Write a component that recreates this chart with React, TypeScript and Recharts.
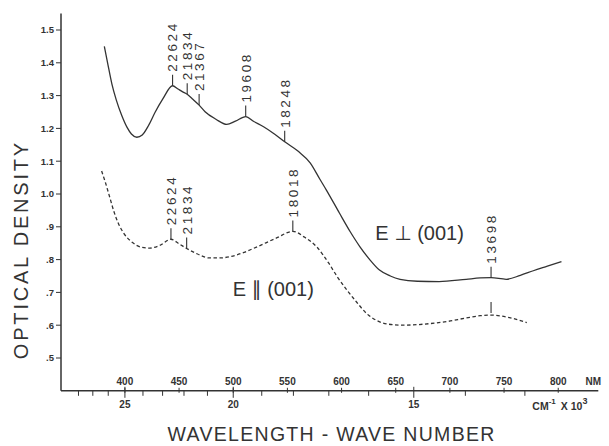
import { Label, Line, LineChart, ReferenceDot, XAxis, YAxis } from 'recharts'

// E perpendicular to (001): wavelength (nm) vs optical density
const perpNm = [381, 384, 388, 392, 397, 402, 406, 411, 416, 422, 428, 435, 444, 449, 453, 457.5, 463, 468.5, 474, 484, 494, 502, 511.5, 519, 528, 538, 547.5, 560, 571, 580, 586, 598, 608, 617, 626, 635, 645, 654, 670, 690, 715, 728, 738, 752, 765, 777, 790, 803]
const perpOd = [1.45, 1.4, 1.335, 1.287, 1.24, 1.203, 1.183, 1.173, 1.18, 1.21, 1.25, 1.29, 1.33, 1.32, 1.312, 1.304, 1.288, 1.271, 1.251, 1.228, 1.212, 1.222, 1.236, 1.221, 1.205, 1.183, 1.159, 1.13, 1.095, 1.045, 1.012, 0.942, 0.885, 0.839, 0.8, 0.768, 0.75, 0.74, 0.734, 0.733, 0.74, 0.744, 0.745, 0.74, 0.752, 0.766, 0.78, 0.794]

// E parallel to (001)
const paraNm = [378.5, 382, 386, 390, 394, 399, 407, 415, 423, 432, 442.5, 450, 457, 467, 478, 488, 497, 510, 522, 540, 555, 566, 577, 588, 596, 605, 614, 623, 632, 642, 655, 666, 682, 697, 715, 728, 738, 755, 771]
const paraOd = [1.07, 1.035, 0.99, 0.945, 0.91, 0.88, 0.852, 0.838, 0.835, 0.843, 0.862, 0.848, 0.834, 0.817, 0.805, 0.805, 0.809, 0.822, 0.839, 0.866, 0.886, 0.868, 0.839, 0.79, 0.748, 0.707, 0.67, 0.636, 0.615, 0.604, 0.6, 0.601, 0.605, 0.611, 0.622, 0.629, 0.631, 0.623, 0.608]

// peak annotations (wave number in cm-1)
const perpPeakLabels = ['22624', '21834', '21367', '19608', '18248', '13698']
const perpPeakNm = [444, 457.5, 468.5, 511.5, 547.5, 738]
const perpPeakOd = [1.33, 1.304, 1.271, 1.236, 1.159, 0.745]

const paraPeakLabels = ['22624', '21834', '18018', '']
const paraPeakNm = [442.5, 457, 555, 738]
const paraPeakOd = [0.862, 0.834, 0.886, 0.631]

const nmTicks = [400, 450, 500, 550, 600, 650, 700, 750, 800]
const wnTicksK = [28, 27, 26, 25, 24, 23, 22, 21, 20, 19, 18, 17, 16, 15, 14, 13] // x 10^3 cm-1
const wnLabelled = [25, 20, 15]
const odTicks = [0.5, 0.6, 0.7, 0.8, 0.9, 1.0, 1.1, 1.2, 1.3, 1.4, 1.5]

const perpData = perpNm.map((nm, i) => ({ nm, od: perpOd[i] }))
const paraData = paraNm.map((nm, i) => ({ nm, od: paraOd[i] }))
const axisTicks = Array.from(new Set([...nmTicks, ...wnTicksK.map((k) => 1e4 / k)])).sort((a, b) => a - b)

const INK = '#333'
const FONT = '"Liberation Sans", Arial, "DejaVu Sans", sans-serif'

function AxisTick(props: any) {
  const { x, y, payload } = props
  const v = payload.value
  const isNm = nmTicks.some((t) => Math.abs(t - v) < 1e-6)
  const k = Math.round(1e4 / v)
  const isWn = wnTicksK.includes(k) && Math.abs(1e4 / k - v) < 1e-6
  const major = isWn && wnLabelled.includes(k)
  return (
    <g>
      {isNm && <line x1={x} y1={y - 3} x2={x} y2={y + 2} stroke={INK} strokeWidth={1} />}
      {isWn && <line x1={x} y1={major ? y - 4 : y} x2={x} y2={major ? y + 7 : y + 5} stroke={INK} strokeWidth={1} />}
      {isNm && (
        <text x={x} y={y - 6} textAnchor="middle" fontSize={10} fontWeight={700} fill={INK} fontFamily={FONT}>
          {v}
        </text>
      )}
      {major && (
        <text x={x} y={y + 17} textAnchor="middle" fontSize={10} fontWeight={700} fill={INK} fontFamily={FONT}>
          {k}
        </text>
      )}
    </g>
  )
}

function XTitles(props: any) {
  const vb = props.viewBox
  const right = vb.x + vb.width
  return (
    <g fill={INK} fontFamily={FONT}>
      <text x={right - 5} y={vb.y - 6} textAnchor="middle" fontSize={10} fontWeight={700}>
        NM
      </text>
      <text x={right - 66} y={vb.y + 19} fontSize={10.5} fontWeight={700}>
        CM
        <tspan dy={-6} fontSize={8}>-1</tspan>
        <tspan dy={6} dx={5}>X 10</tspan>
        <tspan dy={-6} fontSize={9}>3</tspan>
      </text>
      <text x={vb.x + vb.width / 2 + 2} y={vb.y + 50} textAnchor="middle" fontSize={19.5} letterSpacing={1.3}>
        WAVELENGTH - WAVE NUMBER
      </text>
    </g>
  )
}

function YTitle(props: any) {
  const vb = props.viewBox
  const cx = vb.x + 21
  const cy = vb.y + 236
  return (
    <text
      transform={`translate(${cx},${cy}) rotate(-90)`}
      dy="0.36em"
      textAnchor="middle"
      fontSize={20}
      letterSpacing={2.8}
      fill={INK}
      fontFamily={FONT}
    >
      OPTICAL DENSITY
    </text>
  )
}

function PeakMark({ cx, cy, text, gap }: { cx: number; cy: number; text: string; gap: number }) {
  const top = cy - gap - 11
  return (
    <g>
      <line x1={cx} y1={cy - gap} x2={cx} y2={top} stroke={INK} strokeWidth={1.1} />
      {text && (
        <text
          transform={`translate(${cx},${top - 3}) rotate(-90)`}
          dy="0.36em"
          fontSize={13.5}
          letterSpacing={2.6}
          fill={INK}
          fontFamily={FONT}
        >
          {text}
        </text>
      )}
    </g>
  )
}

const fmtOd = (v: number) => (v >= 1 ? v.toFixed(1) : v.toFixed(1).slice(1))

export default function App() {
  return (
    <div style={{ position: 'absolute', left: 0, top: 0, background: '#fff' }}>
      <LineChart width={609} height={446} margin={{ top: 13.6, right: 10.7, bottom: 0.2, left: 0 }}>
        <XAxis
          type="number"
          dataKey="nm"
          domain={[341, 837]}
          allowDataOverflow
          ticks={axisTicks}
          interval={0}
          height={55}
          tickSize={0}
          tickMargin={0}
          tickLine={false}
          axisLine={{ stroke: INK, strokeWidth: 1.5 }}
          tick={(p: any) => <AxisTick {...p} />}
        >
          <Label content={(p: any) => <XTitles {...p} />} />
        </XAxis>
        <YAxis
          type="number"
          domain={[0.4, 1.55]}
          allowDataOverflow
          ticks={odTicks}
          interval={0}
          width={61}
          tickSize={5}
          tickMargin={2}
          tickLine={{ stroke: INK }}
          axisLine={{ stroke: INK, strokeWidth: 1.5 }}
          tickFormatter={fmtOd}
          tick={{ fontSize: 9.5, fontWeight: 700, fill: INK, fontFamily: FONT }}
        >
          <Label content={(p: any) => <YTitle {...p} />} />
        </YAxis>
        <Line
          data={perpData}
          dataKey="od"
          type="monotone"
          stroke={INK}
          strokeWidth={1.3}
          dot={false}
          activeDot={false}
          isAnimationActive={false}
        />
        <Line
          data={paraData}
          dataKey="od"
          type="monotone"
          stroke={INK}
          strokeWidth={1.3}
          strokeDasharray="3.5 2.5"
          dot={false}
          activeDot={false}
          isAnimationActive={false}
        />
        {perpPeakNm.map((nm, i) => (
          <ReferenceDot
            key={`perp-${i}`}
            x={nm}
            y={perpPeakOd[i]}
            shape={(p: any) => <PeakMark cx={p.cx} cy={p.cy} text={perpPeakLabels[i]} gap={0} />}
          />
        ))}
        {paraPeakNm.map((nm, i) => (
          <ReferenceDot
            key={`para-${i}`}
            x={nm}
            y={paraPeakOd[i]}
            shape={(p: any) => <PeakMark cx={p.cx} cy={p.cy} text={paraPeakLabels[i]} gap={paraPeakLabels[i] ? 0 : 2} />}
          />
        ))}
        <ReferenceDot
          x={672}
          y={0.881}
          shape={(p: any) => (
            <text x={p.cx} y={p.cy} dy="0.36em" textAnchor="middle" fontSize={20} fill={INK} fontFamily={FONT}>
              E ⊥ (001)
            </text>
          )}
        />
        <ReferenceDot
          x={537}
          y={0.71}
          shape={(p: any) => (
            <text x={p.cx} y={p.cy} dy="0.36em" textAnchor="middle" fontSize={20} fill={INK} fontFamily={FONT}>
              E ∥ (001)
            </text>
          )}
        />
      </LineChart>
    </div>
  )
}
